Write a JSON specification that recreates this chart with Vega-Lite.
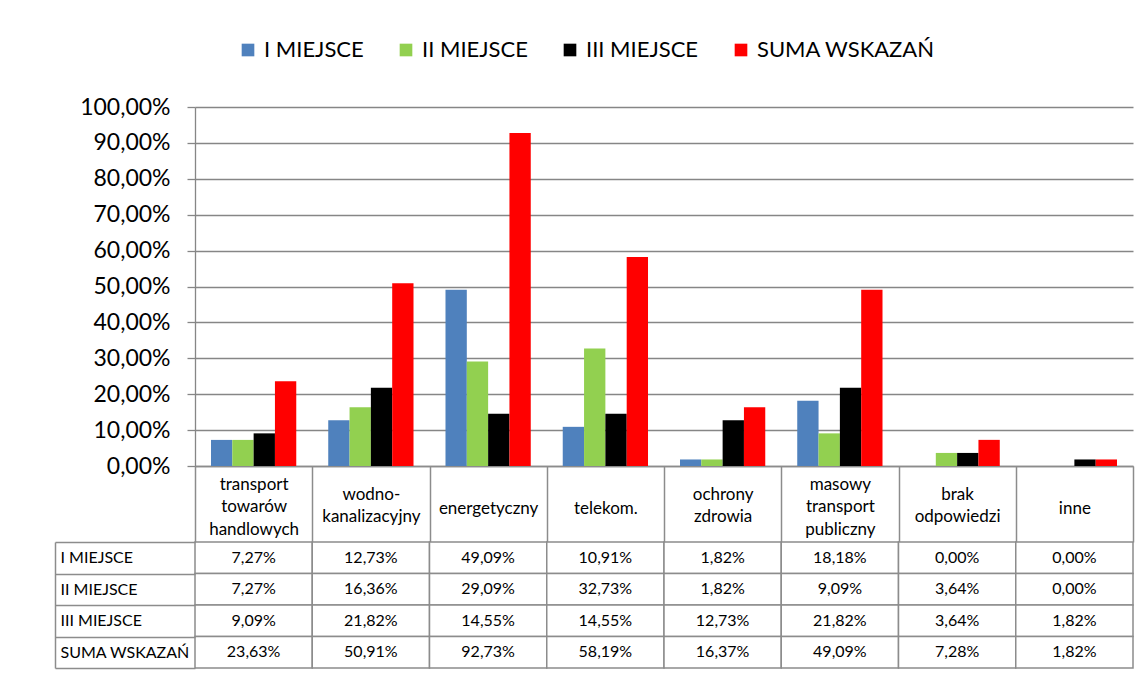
{
  "$schema": "https://vega.github.io/schema/vega-lite/v6.json",
  "padding": {"left": 54, "top": 39, "right": 5, "bottom": 5},
  "background": "white",
  "config": {
    "locale": {"number": {"decimal": ",", "thousands": " ", "grouping": [3], "currency": ["", " zł"]}},
    "font": "Lato",
    "view": {"stroke": null}
  },
  "datasets": {
    "d": [
      {"category": "transport towarów handlowych", "series": "I MIEJSCE", "value": 0.0727},
      {"category": "wodno-kanalizacyjny", "series": "I MIEJSCE", "value": 0.1273},
      {"category": "energetyczny", "series": "I MIEJSCE", "value": 0.4909},
      {"category": "telekom.", "series": "I MIEJSCE", "value": 0.1091},
      {"category": "ochrony zdrowia", "series": "I MIEJSCE", "value": 0.0182},
      {"category": "masowy transport publiczny", "series": "I MIEJSCE", "value": 0.1818},
      {"category": "brak odpowiedzi", "series": "I MIEJSCE", "value": 0},
      {"category": "inne", "series": "I MIEJSCE", "value": 0},
      {"category": "transport towarów handlowych", "series": "II MIEJSCE", "value": 0.0727},
      {"category": "wodno-kanalizacyjny", "series": "II MIEJSCE", "value": 0.1636},
      {"category": "energetyczny", "series": "II MIEJSCE", "value": 0.2909},
      {"category": "telekom.", "series": "II MIEJSCE", "value": 0.3273},
      {"category": "ochrony zdrowia", "series": "II MIEJSCE", "value": 0.0182},
      {"category": "masowy transport publiczny", "series": "II MIEJSCE", "value": 0.0909},
      {"category": "brak odpowiedzi", "series": "II MIEJSCE", "value": 0.0364},
      {"category": "inne", "series": "II MIEJSCE", "value": 0},
      {"category": "transport towarów handlowych", "series": "III MIEJSCE", "value": 0.0909},
      {"category": "wodno-kanalizacyjny", "series": "III MIEJSCE", "value": 0.2182},
      {"category": "energetyczny", "series": "III MIEJSCE", "value": 0.1455},
      {"category": "telekom.", "series": "III MIEJSCE", "value": 0.1455},
      {"category": "ochrony zdrowia", "series": "III MIEJSCE", "value": 0.1273},
      {"category": "masowy transport publiczny", "series": "III MIEJSCE", "value": 0.2182},
      {"category": "brak odpowiedzi", "series": "III MIEJSCE", "value": 0.0364},
      {"category": "inne", "series": "III MIEJSCE", "value": 0.0182},
      {"category": "transport towarów handlowych", "series": "SUMA WSKAZAŃ", "value": 0.2363},
      {"category": "wodno-kanalizacyjny", "series": "SUMA WSKAZAŃ", "value": 0.5091},
      {"category": "energetyczny", "series": "SUMA WSKAZAŃ", "value": 0.9273},
      {"category": "telekom.", "series": "SUMA WSKAZAŃ", "value": 0.5819},
      {"category": "ochrony zdrowia", "series": "SUMA WSKAZAŃ", "value": 0.1637},
      {"category": "masowy transport publiczny", "series": "SUMA WSKAZAŃ", "value": 0.4909},
      {"category": "brak odpowiedzi", "series": "SUMA WSKAZAŃ", "value": 0.0728},
      {"category": "inne", "series": "SUMA WSKAZAŃ", "value": 0.0182}
    ]
  },
  "vconcat": [
    {
      "width": 938,
      "height": 359,
      "data": {"name": "d"},
      "mark": {"type": "bar"},
      "encoding": {
        "x": {
          "field": "category", "type": "nominal",
          "sort": ["transport towarów handlowych", "wodno-kanalizacyjny", "energetyczny", "telekom.", "ochrony zdrowia", "masowy transport publiczny", "brak odpowiedzi", "inne"],
          "scale": {"paddingInner": 0, "paddingOuter": 0},
          "axis": {
            "title": null, "domainColor": "#8c8c8c", "domainWidth": 1.5,
            "tickBand": "extent", "tickSize": 76, "tickColor": "#8c8c8c", "tickWidth": 1.5,
            "labelExpr": "split(replace(datum.label, '-', '- '), ' ')",
            "labelBaseline": "middle",
            "labelPadding": {
              "condition": [
                {"test": "length(split(replace(datum.label, '-', '- '), ' ')) == 3", "value": -58},
                {"test": "length(split(replace(datum.label, '-', '- '), ' ')) == 2", "value": -48}
              ],
              "value": -34
            },
            "labelFontSize": 17, "labelLineHeight": 22.5,
            "labelAngle": 0, "labelOverlap": false, "labelColor": "black", "labelLimit": 200
          }
        },
        "xOffset": {
          "field": "series", "type": "nominal",
          "sort": ["I MIEJSCE", "II MIEJSCE", "III MIEJSCE", "SUMA WSKAZAŃ"],
          "scale": {"paddingInner": 0, "paddingOuter": 0.75}
        },
        "y": {
          "field": "value", "type": "quantitative",
          "scale": {"domain": [0, 1]},
          "axis": {
            "title": null, "values": [0, 0.1, 0.2, 0.3, 0.4, 0.5, 0.6, 0.7, 0.8, 0.9, 1],
            "format": ".2%", "labelFontSize": 23, "labelPadding": 17, "labelColor": "black",
            "tickSize": 8, "tickColor": "#868686", "tickWidth": 1.3, "domainColor": "#868686", "domainWidth": 1.3,
            "gridColor": "#868686", "gridWidth": 1.3
          }
        },
        "color": {
          "field": "series", "type": "nominal",
          "scale": {"domain": ["I MIEJSCE", "II MIEJSCE", "III MIEJSCE", "SUMA WSKAZAŃ"], "range": ["#4f81bd", "#92d050", "#000000", "#ff0000"]},
          "legend": {
            "title": null, "orient": "none", "legendX": 42, "legendY": -68, "direction": "horizontal",
            "columns": 4, "columnPadding": 31, "labelFontSize": 22, "labelColor": "black", "labelLimit": 300,
            "symbolType": "square", "symbolSize": 160, "symbolStrokeWidth": 0, "labelOffset": 5
          }
        }
      }
    },
    {
      "width": 938,
      "height": 126,
      "data": {"name": "d"},
      "encoding": {
        "x": {
          "field": "category", "type": "nominal",
          "sort": ["transport towarów handlowych", "wodno-kanalizacyjny", "energetyczny", "telekom.", "ochrony zdrowia", "masowy transport publiczny", "brak odpowiedzi", "inne"],
          "scale": {"paddingInner": 0, "paddingOuter": 0},
          "axis": null
        },
        "y": {
          "field": "series", "type": "nominal",
          "sort": ["I MIEJSCE", "II MIEJSCE", "III MIEJSCE", "SUMA WSKAZAŃ"],
          "scale": {"paddingInner": 0, "paddingOuter": 0},
          "axis": {
            "title": null, "orient": "left", "offset": 140,
            "domainColor": "#8c8c8c", "domainWidth": 1.5,
            "tickBand": "extent", "tickSize": -140, "tickColor": "#8c8c8c", "tickWidth": 1.5,
            "labelAlign": "left", "labelPadding": 135, "labelFontSize": 16, "labelColor": "black", "labelLimit": 140
          }
        }
      },
      "layer": [
        {"mark": {"type": "rect", "fill": "white", "stroke": "#8c8c8c", "strokeWidth": 1.5}},
        {
          "mark": {"type": "text", "fontSize": 16, "color": "black"},
          "encoding": {"text": {"field": "value", "type": "quantitative", "format": ".2%"}}
        }
      ]
    }
  ],
  "spacing": 76,
  "bounds": "flush",
  "resolve": {"scale": {"x": "independent", "y": "independent"}}
}
